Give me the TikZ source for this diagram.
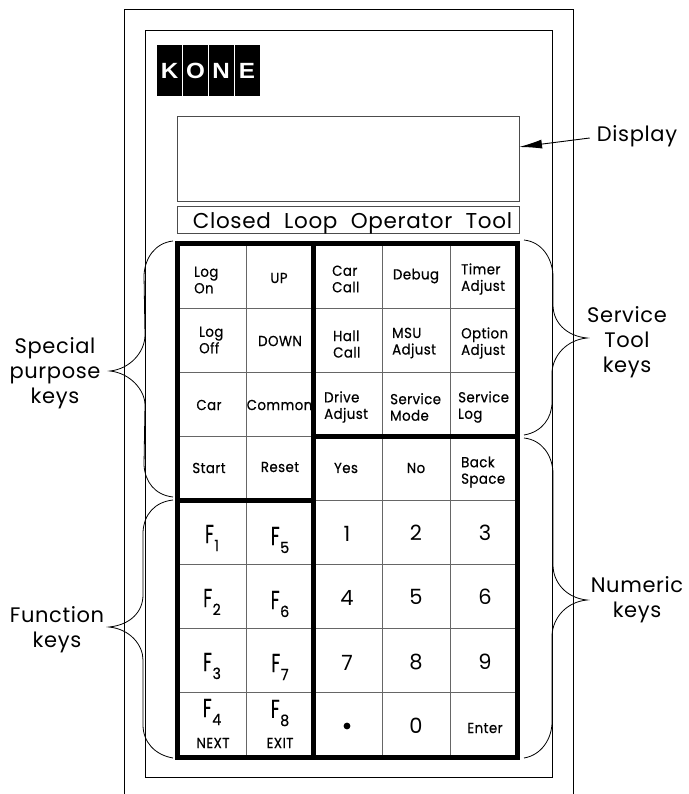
\documentclass[tikz,border=0pt]{standalone}
\usepackage{fontspec}
\setmainfont{Poppins}[LetterSpace=3]
\newfontfamily\keyfont{Poppins}[FakeBold=0.5, FakeStretch=0.92, LetterSpace=3]
\newfontfamily\fontf{Poppins}[FakeStretch=0.68, FakeBold=0.3]
\newfontfamily\logofont{Liberation Sans}[FakeStretch=1.1]
\usetikzlibrary{calc}
\usetikzlibrary{arrows.meta}

\newcommand{\fkey}[1]{F\kern0.5pt\raisebox{-8pt}{\keyfont\fontsize{15.5}{15.5}\selectfont #1}}

\tikzset{
  thinline/.style={black, line width=0.9pt},
  gridline/.style={black!60, line width=0.9pt},
  heavy/.style={black, line width=5pt},
  bracket/.style={black, line width=0.8pt},
  keytext/.style={inner sep=0pt, align=left, font=\keyfont\fontsize{14.5}{16.5}\selectfont},
  numtext/.style={inner sep=0pt, font=\fontsize{21}{21}\selectfont},
  ftext/.style={inner sep=0pt, font=\fontf\fontsize{26}{26}\selectfont},
  tag/.style={inner sep=0pt, align=center, font=\fontsize{21}{25}\selectfont},
  logocell/.style={fill=black, text=white, inner sep=0pt, minimum width=25pt, minimum height=51pt, font=\logofont\bfseries\fontsize{22}{22}\selectfont},
}

\begin{document}
\begin{tikzpicture}[x=1pt, y=-1pt]
\useasboundingbox (0,0) rectangle (688,794);

% housing
\draw[thinline] (124,794)--(124,9)--(573,9)--(573,794);
\draw[thinline] (145,30) rectangle (552,777);

% logo
\node[logocell] (k) at (169.5,70.5) {K};
\node[logocell] (o) at (195.5,70.5) {O};
\node[logocell] (n) at (221,70.5) {N};
\node[logocell] (e) at (247,70.5) {E};

% display and title
\node[draw, black!70!white, line width=0.9pt, minimum width=342pt, minimum height=85pt, inner sep=0pt] (display) at (348,158.5) {};
\node[draw, black!70!white, line width=0.9pt, minimum width=342pt, minimum height=27pt, inner sep=0pt] (title) at (348,219.5) {};
\node[inner sep=0pt, font=\fontsize{21.5}{20}\selectfont] (titletext) at (352.5,223) {Closed\hspace{7pt} Loop\hspace{7pt} Operator\hspace{7pt} Tool};

% key grid
\foreach \y in {308,372,436,500,564,628,692}
  \draw[gridline] (177,\y)--(517,\y);
\foreach \x in {246,382,450}
  \draw[gridline] (\x,243)--(\x,757);
\draw[heavy] (177,243) rectangle (517,757);
\draw[heavy] (313,243)--(313,757);
\draw[heavy] (313,436)--(517,436);
\draw[heavy] (177,500)--(313,500);

% special purpose keys
\node[keytext, anchor=west] (logon) at (194,280) {Log\\On};
\node[keytext] (up) at (279,278) {UP};
\node[keytext, anchor=west] (logoff) at (199,340) {Log\\Off};
\node[keytext] (down) at (280,341) {DOWN};
\node[keytext] (car) at (209,405) {Car};
\node[keytext] (common) at (279.5,405) {Common};
\node[keytext] (start) at (209,468) {Start};
\node[keytext] (reset) at (280,467) {Reset};

% service tool keys
\node[keytext, anchor=west] (carcall) at (332,279) {Car\\Call};
\node[keytext] (debug) at (416,276) {Debug};
\node[keytext, anchor=west] (timer) at (461,279) {Timer\\Adjust};
\node[keytext, anchor=west] (hallcall) at (333,344) {Hall\\Call};
\node[keytext, anchor=west] (msu) at (392,343) {MSU\\Adjust};
\node[keytext, anchor=west] (option) at (461,343) {Option\\Adjust};
\node[keytext, anchor=west] (drive) at (324,407) {Drive\\Adjust};
\node[keytext, anchor=west] (mode) at (390,407) {Service\\Mode};
\node[keytext, anchor=west] (log) at (458,407) {Service\\Log};

% numeric keys
\node[keytext] (yes) at (346,468) {Yes};
\node[keytext] (no) at (416,468) {No};
\node[keytext, anchor=west] (back) at (461,472) {Back\\Space};
\node[numtext] (one) at (347,534) {1};
\node[numtext] (two) at (416,533) {2};
\node[numtext] (three) at (485,533) {3};
\node[numtext] (four) at (347,598) {4};
\node[numtext] (five) at (416,597) {5};
\node[numtext] (six) at (485,597) {6};
\node[numtext] (seven) at (347,663) {7};
\node[numtext] (eight) at (416,662) {8};
\node[numtext] (nine) at (485,662) {9};
\node[fill=black, circle, inner sep=2.4pt] (dot) at (347,726) {};
\node[numtext] (zero) at (416,726) {0};
\node[keytext] (enter) at (485,728) {Enter};

% function keys
\node[ftext] (fone) at (212,538) {\fkey{1}};
\node[ftext] (ffive) at (280,540) {\fkey{5}};
\node[ftext] (ftwo) at (212,602) {\fkey{2}};
\node[ftext] (fsix) at (280,604) {\fkey{6}};
\node[ftext] (fthree) at (212,666) {\fkey{3}};
\node[ftext] (fseven) at (280,667) {\fkey{7}};
\node[ftext] (ffour) at (212,712) {\fkey{4}};
\node[ftext] (feight) at (280,713) {\fkey{8}};
\node[keytext] (next) at (213,743) {NEXT};
\node[keytext] (exit) at (280,743) {EXIT};

% outside labels
\node[tag] (lbldisplay) at (637,136) {Display};
\node[tag] (lblspecial) at (55,373) {Special\\purpose\\keys};
\node[tag] (lblfunction) at (57,630) {Function\\keys};
\node[tag] (lblservice) at (627,342) {Service\\Tool\\keys};
\node[tag] (lblnumeric) at (637,600) {Numeric\\keys};

% arrow to the display
\coordinate (tip) at (519,147);
\draw[black, line width=0.9pt, -{Latex[length=23pt, width=9pt]}] ($(lbldisplay.west |- 0,138)+(-7,0)$) -- (tip);

% braces
\draw[bracket] (173,241) .. controls (155,243) and (145,258) .. (144,275) -- (145,335)
  .. controls (145,352) and (130,369) .. (110,371)
  .. controls (130,373) and (145,390) .. (145,405) -- (144,465)
  .. controls (145,482) and (155,495) .. (173,497);
\draw[bracket] (173,500) .. controls (155,502) and (144,514) .. (143,532) -- (143,595)
  .. controls (143,612) and (130,625) .. (109,627)
  .. controls (130,629) and (143,645) .. (143,660) -- (143,725)
  .. controls (143,742) and (155,755) .. (173,758);
\draw[bracket] (524,240) .. controls (542,242) and (552,258) .. (553,275) -- (553,305)
  .. controls (553,322) and (566,336) .. (587,338)
  .. controls (566,340) and (553,356) .. (552,372) -- (552,402)
  .. controls (552,418) and (542,432) .. (524,435);
\draw[bracket] (524,438) .. controls (542,440) and (552,455) .. (553,472) -- (553,565)
  .. controls (553,582) and (566,598) .. (587,600)
  .. controls (566,602) and (553,618) .. (552,635) -- (552,722)
  .. controls (552,738) and (542,755) .. (524,758);

\end{tikzpicture}
\end{document}
